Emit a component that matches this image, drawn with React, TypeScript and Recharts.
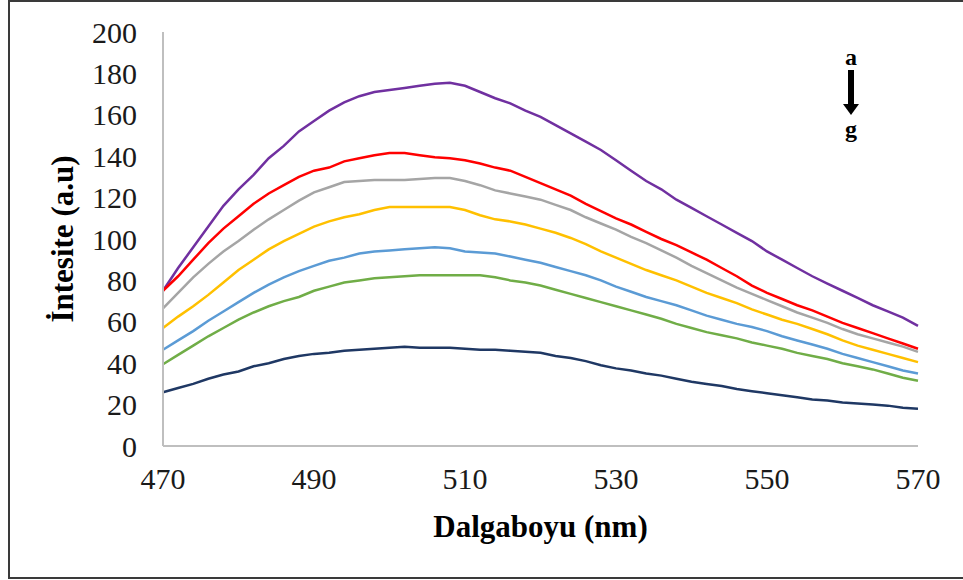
import React from "react";
import { LineChart, Line, XAxis, YAxis } from "recharts";

// wavelength (nm), 2 nm steps
const wavelengths = [
  470, 472, 474, 476, 478, 480, 482, 484, 486, 488, 490, 492, 494, 496, 498, 500, 502, 504, 506, 508,
  510, 512, 514, 516, 518, 520, 522, 524, 526, 528, 530, 532, 534, 536, 538, 540, 542, 544, 546, 548,
  550, 552, 554, 556, 558, 560, 562, 564, 566, 568, 570,
];

// series a..g (top to bottom)
const seriesA = [
  75, 86, 96, 106, 116, 124, 131, 139, 145, 152, 157, 162, 166, 169, 171, 172, 173, 174, 175, 175.5,
  174, 171, 168, 165.5, 162, 159, 155, 151, 147, 143, 138, 133, 128, 124, 119, 115, 111, 107, 103, 99,
  94, 90, 86, 82, 78.5, 75, 71.5, 68, 65, 62, 58,
];
const seriesB = [
  75, 82, 90, 98, 105, 111, 117, 122, 126, 130, 133, 134.5, 137.5, 139, 140.5, 141.5, 141.5, 140.5, 139.5, 139,
  138, 136.5, 134.5, 133, 130, 127, 124, 121, 117, 113.5, 110, 107, 103.5, 100, 97, 93.5, 90, 86, 82, 77.5,
  74, 71, 68, 65.5, 62.5, 59.5, 57, 54.5, 52, 49.5, 47,
];
const seriesC = [
  66.5, 74, 81.5, 88, 94, 99, 104.5, 109.5, 114, 118.5, 122.5, 125, 127.5, 128, 128.5, 128.5, 128.5, 129, 129.5, 129.5,
  128, 126, 123.5, 122, 120.5, 119, 116.5, 114, 110.5, 107.5, 104.5, 101, 98, 94.5, 91, 87, 83.5, 80, 76.5, 73.5,
  70.5, 67.5, 64.5, 62, 59.5, 56.5, 54, 52, 50, 48, 45.5,
];
const seriesD = [
  57, 62.5, 67.5, 73, 79, 85, 90, 95, 99, 102.5, 106, 108.5, 110.5, 112, 114, 115.5, 115.5, 115.5, 115.5, 115.5,
  114, 111.5, 109.5, 108.5, 107, 105, 103, 100.5, 97.5, 94, 91, 88, 85, 82.5, 80, 77, 74, 71.5, 69, 66,
  63.5, 61, 59, 56.5, 54, 51, 48.5, 46.5, 44.5, 42.5, 40.5,
];
const seriesE = [
  46.5, 51, 55.5, 60.5, 65, 69.5, 74, 78, 81.5, 84.5, 87, 89.5, 91, 93, 94, 94.5, 95, 95.5, 96, 95.5,
  94, 93.5, 93, 91.5, 90, 88.5, 86.5, 84.5, 82.5, 80, 77, 74.5, 72, 70, 68, 65.5, 63, 61, 59, 57.5,
  55.5, 53, 51, 49, 47, 44.5, 42.5, 40.5, 38.5, 36.5, 35,
];
const seriesF = [
  39.5, 44, 48.5, 53, 57, 61, 64.5, 67.5, 70, 72, 75, 77, 79, 80, 81, 81.5, 82, 82.5, 82.5, 82.5,
  82.5, 82.5, 81.5, 80, 79, 77.5, 75.5, 73.5, 71.5, 69.5, 67.5, 65.5, 63.5, 61.5, 59, 57, 55, 53.5, 52, 50,
  48.5, 47, 45, 43.5, 42, 40, 38.5, 37, 35, 33, 31.5,
];
const seriesG = [
  26, 28, 30, 32.5, 34.5, 36, 38.5, 40, 42, 43.5, 44.5, 45, 46, 46.5, 47, 47.5, 48, 47.5, 47.5, 47.5,
  47, 46.5, 46.5, 46, 45.5, 45, 43.5, 42.5, 41, 39, 37.5, 36.5, 35, 34, 32.5, 31, 30, 29, 27.5, 26.5,
  25.5, 24.5, 23.5, 22.5, 22, 21, 20.5, 20, 19.5, 18.5, 18,
];

const xTicks = [470, 490, 510, 530, 550, 570];
const yTicks = [0, 20, 40, 60, 80, 100, 120, 140, 160, 180, 200];

const seriesList = [
  { key: "a", values: seriesA, color: "#7030a0" },
  { key: "b", values: seriesB, color: "#ff0000" },
  { key: "c", values: seriesC, color: "#a5a5a5" },
  { key: "d", values: seriesD, color: "#ffc000" },
  { key: "e", values: seriesE, color: "#5b9bd5" },
  { key: "f", values: seriesF, color: "#70ad47" },
  { key: "g", values: seriesG, color: "#1f3864" },
];

const data = wavelengths.map((w, i) => {
  const row: { [k: string]: number } = { w };
  seriesList.forEach((s) => (row[s.key] = s.values[i]));
  return row;
});

const FONT = '"Liberation Serif", "Times New Roman", serif';
const tickStyle = { fontFamily: FONT, fontSize: 30, fill: "#1a1a1a" };

const XTitle = (props: any) => {
  const { x, y, width } = props.viewBox;
  return (
    <text x={x + width / 2} y={y + 91} textAnchor="middle" fontFamily={FONT} fontSize={31} fontWeight="bold" fill="#000">
      Dalgaboyu (nm)
    </text>
  );
};

const YTitle = (props: any) => {
  const { x, y, height } = props.viewBox;
  const cx = x + 62;
  const cy = y + height / 2;
  return (
    <text
      x={cx}
      y={cy}
      transform={`rotate(-90, ${cx}, ${cy})`}
      textAnchor="middle"
      dominantBaseline="central"
      fontFamily={FONT}
      fontSize={31}
      fontWeight="bold"
      fill="#000"
    >
      İntesite (a.u)
    </text>
  );
};

export default function App() {
  return (
    <div style={{ position: "absolute", left: 0, top: 0, width: 963, height: 580, overflow: "hidden", background: "#fff" }}>
      <div
        style={{
          position: "absolute",
          left: 8,
          top: 0,
          width: 1000,
          height: 579,
          boxSizing: "border-box",
          border: "2px solid #3a3a3a",
        }}
      />
      <LineChart width={963} height={580} data={data} margin={{ top: 32, right: 45, bottom: 0, left: 0 }}>
        <XAxis
          dataKey="w"
          type="number"
          domain={[470, 570]}
          ticks={xTicks}
          height={134}
          tickLine={false}
          tickMargin={16}
          axisLine={{ stroke: "#bfbfbf", strokeWidth: 2 }}
          tick={tickStyle}
          label={<XTitle />}
        />
        <YAxis
          type="number"
          domain={[0, 200]}
          ticks={yTicks}
          width={163}
          tickLine={false}
          tickMargin={20}
          axisLine={{ stroke: "#bfbfbf", strokeWidth: 2 }}
          tick={tickStyle}
          label={<YTitle />}
        />
        {seriesList.map((s) => (
          <Line
            key={s.key}
            type="linear"
            dataKey={s.key}
            stroke={s.color}
            strokeWidth={2.5}
            dot={false}
            isAnimationActive={false}
          />
        ))}
      </LineChart>
      <div
        style={{
          position: "absolute",
          left: 838,
          top: 46,
          width: 26,
          textAlign: "center",
          fontFamily: FONT,
          fontWeight: "bold",
          fontSize: 24,
          lineHeight: "22px",
          color: "#000",
        }}
      >
        <div>a</div>
        <svg width={26} height={50} style={{ display: "block" }}>
          <rect x={10} y={2} width={6} height={36} fill="#000" />
          <polygon points="5,36 21,36 13,47" fill="#000" />
        </svg>
        <div>g</div>
      </div>
    </div>
  );
}
